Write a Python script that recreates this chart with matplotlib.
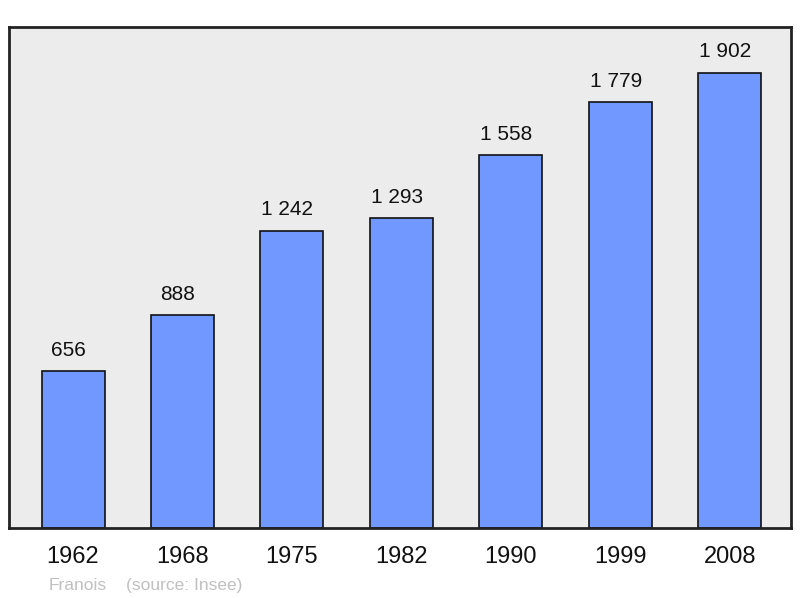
import matplotlib
matplotlib.use("Agg")
import matplotlib.pyplot as plt

years = ["1962", "1968", "1975", "1982", "1990", "1999", "2008"]
population = [656, 888, 1242, 1293, 1558, 1779, 1902]
author = "Franois"
source = "(source: Insee)"

plt.rcParams['font.family'] = ['Liberation Sans', 'DejaVu Sans']

fig = plt.figure(figsize=(8, 5.98), dpi=100)
ax = fig.add_axes([9/800, 1 - 528/598, 782/800, 501/598])
ax.set_facecolor('#ececec')

x = list(range(len(years)))
ax.bar(x, population, width=0.576, color='#7098ff', edgecolor='#111111', linewidth=1.2, zorder=2)

for xi, v in zip(x, population):
    label = f"{v:,}".replace(",", " ")
    ax.annotate(label, (xi, v), xytext=(-3.3, 11), textcoords='offset points',
                ha='center', va='baseline', fontsize=15, color='#111111')

ax.set_xlim(-0.585, len(years) - 1 + 0.56)
ax.set_ylim(0, max(population) * 1.1)
ax.set_xticks(x)
ax.set_xticklabels(years, fontsize=17, color='#111111')
ax.tick_params(axis='x', length=0, pad=13)
ax.set_yticks([])
for s in ax.spines.values():
    s.set_linewidth(2)
    s.set_color('#222222')
    s.set_joinstyle('round')

fig.text(49/800, 1 - 590/598, author, fontsize=12.5, color='#c0c0c0', va='baseline', ha='left')
fig.text(126/800, 1 - 590/598, source, fontsize=12.5, color='#c0c0c0', va='baseline', ha='left')

fig.savefig("out.png", dpi=100)
